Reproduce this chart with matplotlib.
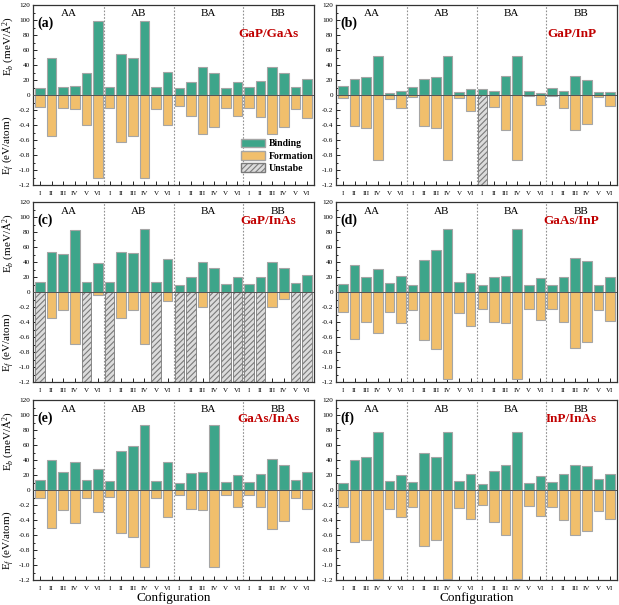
import numpy as np
import matplotlib
matplotlib.use('Agg')
import matplotlib.pyplot as plt
from matplotlib.patches import Patch
from matplotlib.ticker import MultipleLocator

plt.rcParams['font.family'] = ['Liberation Serif', 'DejaVu Serif']
plt.rcParams['mathtext.fontset'] = 'custom'
plt.rcParams['mathtext.rm'] = 'Liberation Serif'
plt.rcParams['mathtext.it'] = 'Liberation Serif:italic'
plt.rcParams['hatch.linewidth'] = 0.8

# configurations (4 stackings x 6 sites)
groups = ['AA', 'AB', 'BA', 'BB']
sites = ['I', 'II', 'III', 'IV', 'V', 'VI']
tick_labels = sites * 4

# binding energy (meV/A^2) and formation energy (eV/atom), order AA, AB, BA, BB
bind_a = [10, 49.5, 11, 11.4, 29, 98.7,  11, 55, 50, 98.7, 11, 31,
          9, 18, 38, 30, 10, 18,  11, 19, 38, 29, 11, 21]
form_a = [-0.16, -0.55, -0.17, -0.18, -0.40, -1.10,  -0.17, -0.62, -0.55, -1.10, -0.18, -0.40,
          -0.15, -0.28, -0.52, -0.42, -0.17, -0.28,  -0.17, -0.29, -0.52, -0.42, -0.18, -0.31]
unstable_a = []

bind_b = [12, 22, 24.5, 52, 3, 6,  11, 22, 24.5, 52, 3.5, 8,
          8, 5, 26, 52, 6, 3,  10, 5, 26, 20, 4.5, 4.5]
form_b = [-0.04, -0.41, -0.44, -0.86, -0.05, -0.17,  -0.02, -0.41, -0.44, -0.86, -0.04, -0.21,
          0, -0.16, -0.47, -0.86, -0.01, -0.13,  -0.01, -0.17, -0.47, -0.38, -0.02, -0.15]
unstable_b = [12]

bind_c = [13, 54, 51, 83, 14, 38.6,  13, 54, 52, 84, 14, 44,
          10, 20.6, 40, 32, 11, 20,  11, 20, 39.5, 31.6, 11.4, 23]
form_c = [0, -0.34, -0.24, -0.69, 0, -0.04,  0, -0.34, -0.24, -0.69, 0, -0.12,
          0, 0, -0.20, 0, 0, 0,  0, 0, -0.20, -0.09, 0, 0]
unstable_c = [0, 4, 6, 10, 12, 13, 15, 16, 17, 18, 19, 22, 23]

bind_d = [11, 36, 20.6, 31, 12, 22,  10, 42.5, 56, 84, 13, 25,
          9, 20.6, 21.5, 84, 9, 18.4,  9, 20.6, 45.6, 40.8, 10, 20]
form_d = [-0.26, -0.62, -0.40, -0.54, -0.27, -0.41,  -0.24, -0.64, -0.76, -1.16, -0.28, -0.45,
          -0.22, -0.40, -0.41, -1.16, -0.23, -0.37,  -0.23, -0.40, -0.74, -0.67, -0.24, -0.38]
unstable_d = []

bind_e = [12.8, 40.5, 24.6, 37.9, 13.6, 28,  12, 52, 59, 86.8, 12, 37,
          9.7, 22.5, 24, 86.8, 10.6, 20,  10.6, 22, 41.4, 34, 13.6, 23.8]
form_e = [-0.10, -0.51, -0.27, -0.44, -0.11, -0.29,  -0.09, -0.57, -0.62, -1.02, -0.10, -0.36,
          -0.06, -0.25, -0.27, -1.02, -0.07, -0.22,  -0.07, -0.23, -0.52, -0.41, -0.11, -0.25]
unstable_e = []

bind_f = [9.7, 39.6, 44, 77, 12.3, 19.4,  10.6, 49, 44, 77, 11.5, 21,
          8.4, 25, 34, 77, 9.3, 18.5,  10.6, 21.6, 34, 32.6, 14.5, 21]
form_f = [-0.22, -0.69, -0.67, -1.18, -0.25, -0.36,  -0.23, -0.74, -0.67, -1.18, -0.24, -0.38,
          -0.20, -0.43, -0.60, -1.18, -0.21, -0.35,  -0.23, -0.40, -0.60, -0.54, -0.28, -0.39]
unstable_f = []

panel_tags = ['(a)', '(b)', '(c)', '(d)', '(e)', '(f)']
systems = ['GaP/GaAs', 'GaP/InP', 'GaP/InAs', 'GaAs/InP', 'GaAs/InAs', 'InP/InAs']
binds = [bind_a, bind_b, bind_c, bind_d, bind_e, bind_f]
forms = [form_a, form_b, form_c, form_d, form_e, form_f]
unstables = [unstable_a, unstable_b, unstable_c, unstable_d, unstable_e, unstable_f]

c_bind = '#3da58a'
c_form = '#f1bf6c'
c_edge = '#a5a5a5'
c_hatch_face = '#dcdcdc'
c_hatch = '#7a7a7a'

W, H = 619, 605
fig = plt.figure(figsize=(W / 100, H / 100), dpi=100)
col_x = [33, 336]
row_y = [5, 202, 400]
ax_w, ax_h = 281, 180

yticks = np.arange(-120, 121, 20)
ylabels = [str(int(v)) if v >= 0 else f'{v / 100:.1f}' for v in yticks]

for k in range(6):
    r, c = divmod(k, 2)
    ax = fig.add_axes([col_x[c] / W, 1 - (row_y[r] + ax_h) / H, ax_w / W, ax_h / H])
    x = np.arange(24)
    ax.bar(x, binds[k], width=0.82, color=c_bind, edgecolor=c_edge, lw=0.8, zorder=2)
    fv = np.array(forms[k], dtype=float) * 100
    uns = unstables[k]
    stable = [i for i in range(24) if i not in uns]
    ax.bar(x[stable], fv[stable], width=0.82, color=c_form, edgecolor=c_edge, lw=0.8, zorder=2)
    if uns:
        ax.bar(x[uns], [-120] * len(uns), width=0.82, color=c_hatch_face, edgecolor=c_hatch,
               hatch='//////', lw=0.6, zorder=2)
    ax.axhline(0, color='#555555', lw=0.7, zorder=3)
    for s in [5.5, 11.5, 17.5]:
        ax.axvline(s, color='#909090', ls=(0, (1.5, 1.5)), lw=0.8, zorder=1)
    for g, name in enumerate(groups):
        ax.text(g * 6 + 2.5, 108, name, ha='center', va='center', fontsize=8)
    ax.text(-0.2, 96, panel_tags[k], ha='left', va='center', fontsize=10, fontweight='bold')
    ax.text(19.7, 81 if k < 2 else 94, systems[k], ha='center', va='center',
            fontsize=9.5, fontweight='bold', color='#c00000')

    ax.set_xlim(-0.6, 23.6)
    ax.set_ylim(-120, 120)
    ax.set_xticks(x)
    ax.set_xticklabels(tick_labels, fontsize=5)
    ax.set_yticks(yticks)
    ax.set_yticklabels(ylabels, fontsize=5.2)
    ax.yaxis.set_minor_locator(MultipleLocator(10))
    ax.tick_params(which='both', direction='in', top=False, right=False, width=0.6)
    ax.tick_params(which='major', length=3)
    ax.tick_params(which='minor', length=1.6)
    ax.tick_params(axis='x', pad=4)
    ax.tick_params(axis='y', pad=2)
    for sp in ax.spines.values():
        sp.set_linewidth(0.9)
        sp.set_color('#333333')

    if c == 0:
        ax.text(-0.088, 0.77, r'E$_b$ (meV/Å$^2$)', transform=ax.transAxes, rotation=90,
                ha='center', va='center', fontsize=8)
        ax.text(-0.088, 0.22, r'E$_f$ (eV/atom)', transform=ax.transAxes, rotation=90,
                ha='center', va='center', fontsize=8)
    if r == 2:
        ax.set_xlabel('Configuration', fontsize=9.5, labelpad=1)
    if k == 0:
        handles = [Patch(facecolor=c_bind, edgecolor=c_edge, label='Binding'),
                   Patch(facecolor=c_form, edgecolor=c_edge, label='Formation'),
                   Patch(facecolor=c_hatch_face, edgecolor=c_hatch, hatch='//////', label='Unstabe')]
        ax.legend(handles=handles, loc='lower right', bbox_to_anchor=(1.03, 0.02), frameon=False,
                  prop={'weight': 'bold', 'size': 7}, handlelength=2.5, handleheight=1.0,
                  labelspacing=0.25, handletextpad=0.4)

fig.savefig('out.png', dpi=100)
